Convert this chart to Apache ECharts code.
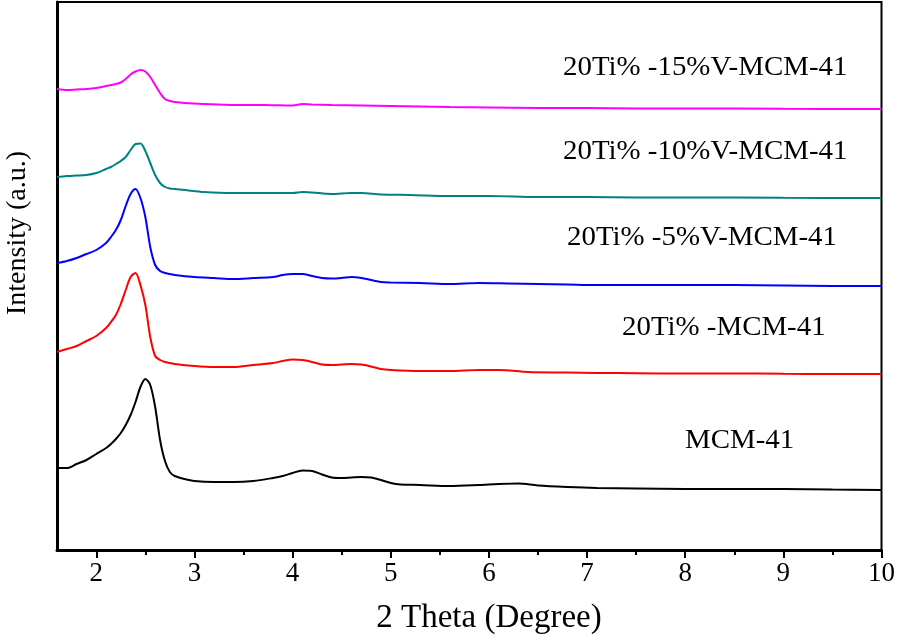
<!DOCTYPE html>
<html><head><meta charset="utf-8">
<script src="https://cdn.jsdelivr.net/npm/echarts@6/dist/echarts.min.js"></script>
<style>html,body{margin:0;padding:0;background:#fff}#c{width:898px;height:641px}</style>
</head><body><div id="c"></div>
<script>
// ---- data (2θ in degrees, intensity in arbitrary units) ----
const seriesNames = ['MCM-41', '20Ti% -MCM-41', '20Ti% -5%V-MCM-41', '20Ti% -10%V-MCM-41', '20Ti% -15%V-MCM-41'];
const seriesColors = ['#000000', '#ff0000', '#0000ff', '#008080', '#ff00ff'];
const xTickValues = [2, 3, 4, 5, 6, 7, 8, 9, 10];
const xMinorTickValues = [2.5, 3.5, 4.5, 5.5, 6.5, 7.5, 8.5, 9.5];
const xTitle = '2 Theta (Degree)';
const yTitle = 'Intensity (a.u.)';

const mcm41 = [[1.6,82],[1.7,82],[1.8,86],[1.9,90],[2.0,96],[2.1,102],[2.15,106],[2.2,111],[2.25,117],[2.3,125],[2.35,135],[2.4,148],[2.45,163],[2.5,171],[2.55,165],[2.6,143],[2.65,110],[2.7,89],[2.75,78],[2.8,74],[2.9,71],[3.0,69],[3.2,68],[3.4,68],[3.6,69],[3.8,72],[3.9,74],[4.0,77],[4.1,79.5],[4.2,79],[4.3,75.5],[4.4,72.5],[4.5,72],[4.6,72.5],[4.7,73],[4.8,72.5],[4.9,70],[5.0,67],[5.1,65.5],[5.3,65],[5.6,64],[5.9,65],[6.1,66],[6.3,66.5],[6.5,64.5],[6.8,63],[7.1,62],[7.5,61.5],[8.0,61],[8.5,61],[9.0,61],[9.5,60.5],[10.0,60]];
const ti20 = [[1.6,198],[1.7,201],[1.8,204],[1.9,209],[2.0,214],[2.1,222],[2.15,228],[2.2,235],[2.25,246],[2.3,260],[2.35,273],[2.4,277],[2.45,265],[2.5,245],[2.55,213],[2.6,194],[2.65,190],[2.7,188],[2.75,187],[2.8,186],[3.0,184],[3.2,183],[3.4,183],[3.6,185],[3.8,187],[3.9,189],[4.0,190.5],[4.1,190],[4.2,188],[4.3,185.5],[4.4,185],[4.5,185.5],[4.6,186],[4.7,185.5],[4.8,183.5],[4.9,181],[5.0,180],[5.3,179],[5.6,179],[5.9,180],[6.1,180],[6.4,178],[6.8,177.5],[7.1,177],[7.5,176.8],[8.0,176.5],[8.5,176.5],[9.0,176.2],[9.5,176],[10.0,176]];
const ti20v5 = [[1.6,287],[1.7,289],[1.8,292],[1.9,296],[2.0,300],[2.1,307],[2.15,313],[2.2,320],[2.25,330],[2.3,344],[2.35,356],[2.4,361],[2.45,352],[2.5,333],[2.55,303],[2.6,285],[2.65,279],[2.7,277],[2.75,276],[2.8,275],[3.0,273],[3.2,272],[3.4,271],[3.6,272],[3.8,273],[3.9,275],[4.0,276],[4.1,276],[4.2,274],[4.3,272],[4.4,271.5],[4.5,272],[4.6,273],[4.7,272],[4.8,270],[4.9,268],[5.0,267.5],[5.3,267],[5.6,266],[5.9,267],[6.2,266.5],[6.5,266],[6.8,265.5],[7.1,265],[7.5,265],[8.0,265],[8.5,265],[9.0,264.5],[9.5,264],[10.0,264]];
const ti20v10 = [[1.6,373],[1.7,374],[1.8,374.5],[1.9,375],[2.0,377],[2.1,381],[2.15,383],[2.2,386],[2.25,389],[2.3,393],[2.35,400],[2.4,406],[2.45,406.5],[2.5,399],[2.55,387],[2.6,375],[2.65,367],[2.7,363],[2.75,361.5],[2.8,361],[2.9,360],[3.1,358],[3.4,357],[3.7,357],[4.0,357],[4.1,358],[4.2,357.5],[4.4,356],[4.6,357],[4.7,357],[4.9,355.5],[5.2,355],[5.6,354],[6.0,354],[6.5,353],[7.0,353],[7.5,352.5],[8.0,352.5],[9.0,352.2],[10.0,352]];
const ti20v15 = [[1.6,461],[1.7,460],[1.8,460.5],[1.9,461],[2.0,462],[2.1,464],[2.15,465],[2.2,466],[2.25,467.5],[2.3,471],[2.35,475.5],[2.4,478.5],[2.45,480],[2.5,478.5],[2.55,473],[2.6,465],[2.65,457],[2.7,451],[2.75,449],[2.8,448],[2.9,447],[3.1,446],[3.4,445],[3.7,445],[4.0,444.5],[4.1,446],[4.2,445.5],[4.4,445],[4.7,444.5],[5.0,444],[5.3,443.5],[5.6,443],[6.0,442.5],[6.5,442],[7.0,442],[7.5,441.5],[8.0,441.5],[9.0,441.2],[10.0,441]];
const allData = [mcm41, ti20, ti20v5, ti20v10, ti20v15];

// ---- chart ----
const FONT = '"Liberation Serif", "Times New Roman", serif';
const chart = echarts.init(document.getElementById('c'), null, {renderer: 'canvas'});
const labelPos = [[685, 441], [622, 328], [567, 238], [563, 152], [563, 68]];

const option = {
  animation: false,
  backgroundColor: '#ffffff',
  grid: {left: 57, right: 16, top: 2, bottom: 91, show: true, borderColor: '#000', borderWidth: 2, backgroundColor: 'transparent'},
  xAxis: [{
    type: 'value', min: 1.6, max: 10, gridIndex: 0,
    axisLine: {show: true, onZero: false, lineStyle: {color: '#000', width: 3}},
    axisTick: {show: true, inside: false, length: 8, lineStyle: {color: '#000', width: 2}, customValues: xTickValues},
    axisLabel: {show: true, color: '#000', fontFamily: FONT, fontSize: 27, margin: 10, customValues: xTickValues},
    splitLine: {show: false}
  }, {
    type: 'value', min: 1.6, max: 10, gridIndex: 0, position: 'bottom',
    axisLine: {show: false, onZero: false},
    axisTick: {show: true, inside: false, length: 5, lineStyle: {color: '#000', width: 2}, customValues: xMinorTickValues},
    axisLabel: {show: false},
    splitLine: {show: false}
  }],
  yAxis: {
    type: 'value', min: 0, max: 548,
    axisLine: {show: true, onZero: false, lineStyle: {color: '#000', width: 3}},
    axisTick: {show: false}, axisLabel: {show: false}, splitLine: {show: false}
  },
  series: allData.map((d, i) => ({
    name: seriesNames[i], type: 'line', data: d, xAxisIndex: 0,
    showSymbol: false, symbol: 'none', smooth: 0.3,
    lineStyle: {color: seriesColors[i], width: 2}, z: 3
  })),
  graphic: seriesNames.map((n, i) => ({
    type: 'text', x: labelPos[i][0], y: labelPos[i][1], scaleX: 1.07,
    style: {text: n, fill: '#000', font: '27px ' + FONT, align: 'left', verticalAlign: 'middle'}
  })).concat([
    {type: 'text', x: 489, y: 618, style: {text: xTitle, fill: '#000', font: '33px ' + FONT, align: 'center', verticalAlign: 'middle'}},
    {type: 'text', x: 18, y: 233, rotation: Math.PI / 2, style: {text: yTitle, fill: '#000', font: '28px ' + FONT, align: 'center', verticalAlign: 'middle'}}
  ])
};
chart.setOption(option);
</script></body></html>
